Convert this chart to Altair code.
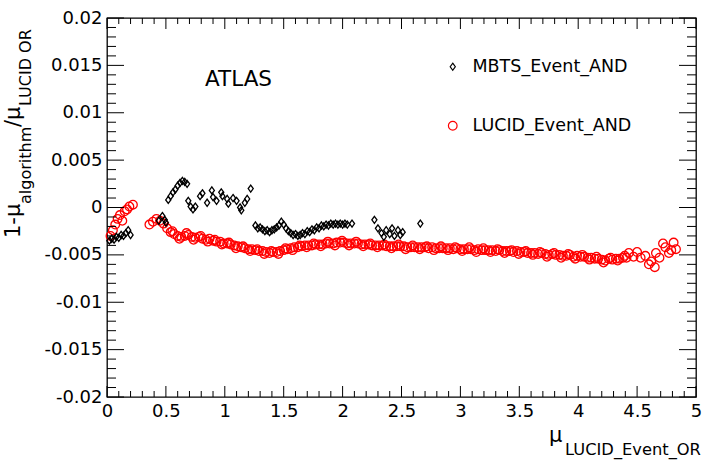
import altair as alt
import pandas as pd

series_names = ["LUCID_Event_AND", "MBTS_Event_AND"]

mbts_x = [0.02, 0.04, 0.06, 0.08, 0.10, 0.12, 0.14, 0.16, 0.18, 0.20,
          0.44, 0.47, 0.49, 0.50,
          0.52, 0.54, 0.56, 0.58, 0.60, 0.62, 0.64, 0.66, 0.68,
          0.69, 0.71, 0.73, 0.75, 0.79, 0.81, 0.85, 0.89, 0.90, 0.93, 0.97, 0.98,
          1.02, 1.03, 1.07, 1.10, 1.13, 1.14, 1.17, 1.19, 1.22, 1.26, 1.28,
          1.30, 1.32, 1.34, 1.36, 1.38, 1.40, 1.42, 1.44, 1.46, 1.48, 1.50, 1.52,
          1.54, 1.56, 1.58, 1.60, 1.62, 1.64, 1.66, 1.68, 1.70, 1.72, 1.74, 1.76,
          1.78, 1.80, 1.82, 1.84, 1.86, 1.88, 1.90, 1.92, 1.94, 1.96, 1.98, 2.00,
          2.02, 2.04,
          2.08, 2.27, 2.30, 2.33, 2.35, 2.37, 2.40, 2.42, 2.44, 2.47, 2.49, 2.51, 2.66]
mbts_y = [-0.0035, -0.0033, -0.0034, -0.0031, -0.0032, -0.0029, -0.0030, -0.0027, -0.0024, -0.0029,
          -0.0014, -0.0009, -0.0013, -0.0016,
          0.0008, 0.0012, 0.0016, 0.0019, 0.0023, 0.0026, 0.0028, 0.0027, 0.0025,
          0.0007, 0.0001, -0.0002, 0.0001, 0.0012, 0.0015, 0.0005, 0.0018, 0.0011, 0.0007, 0.0016, 0.0012,
          0.0009, 0.0004, 0.0010, 0.0007, 0.0000, -0.0003, 0.0005, 0.0009, 0.0020, -0.0019, -0.0022,
          -0.0021, -0.0023, -0.0025, -0.0024, -0.0026, -0.0024, -0.0023, -0.0021, -0.0019, -0.0015, -0.0018, -0.0022,
          -0.0025, -0.0027, -0.0029, -0.0028, -0.0030, -0.0029, -0.0027, -0.0028, -0.0025, -0.0026, -0.0023, -0.0024,
          -0.0021, -0.0022, -0.0019, -0.0020, -0.0018, -0.0019, -0.0017, -0.0018, -0.0017, -0.0018, -0.0017, -0.0018,
          -0.0017, -0.0018,
          -0.0017, -0.0013, -0.0022, -0.0027, -0.0031, -0.0024, -0.0028, -0.0022, -0.0030, -0.0024, -0.0029, -0.0026, -0.0017]

lucid_x = [0.03, 0.05, 0.07, 0.09, 0.11, 0.13, 0.15, 0.17, 0.19, 0.22,
           0.36, 0.39, 0.42, 0.45, 0.48, 0.51, 0.54, 0.57, 0.60, 0.63, 0.66, 0.69,
           0.72, 0.75, 0.78, 0.81, 0.84, 0.87, 0.90, 0.93, 0.96, 0.99, 1.02, 1.05,
           1.08, 1.11, 1.14, 1.17, 1.20, 1.23, 1.26, 1.29, 1.32, 1.35, 1.38, 1.41,
           1.44, 1.47, 1.50, 1.53, 1.56, 1.59, 1.62, 1.65, 1.68, 1.71, 1.74, 1.77,
           1.80, 1.83, 1.86, 1.89, 1.92, 1.95, 1.98, 2.01, 2.04, 2.07, 2.10, 2.13,
           2.16, 2.19, 2.22, 2.25, 2.28, 2.31, 2.34, 2.37, 2.40, 2.43, 2.46, 2.49,
           2.52, 2.55, 2.58, 2.61, 2.64, 2.67, 2.70, 2.73, 2.76, 2.79, 2.82, 2.85,
           2.88, 2.91, 2.94, 2.97, 3.00, 3.03, 3.06, 3.09, 3.12, 3.15, 3.18, 3.21,
           3.24, 3.27, 3.30, 3.33, 3.36, 3.39, 3.42, 3.45, 3.48, 3.51, 3.54, 3.57,
           3.60, 3.63, 3.66, 3.69, 3.72, 3.75, 3.78, 3.81, 3.84, 3.87, 3.90, 3.93,
           3.96, 3.99, 4.02, 4.05, 4.08, 4.11, 4.14, 4.17, 4.20, 4.23, 4.26, 4.29,
           4.32, 4.35, 4.38, 4.41,
           4.43, 4.47, 4.50, 4.53, 4.57, 4.60, 4.62, 4.65, 4.66, 4.69, 4.72, 4.74,
           4.77, 4.79, 4.81, 4.83,
           0.555, 0.615, 0.675, 0.735, 0.795, 0.855, 0.915, 0.975, 1.035, 1.095,
           1.155, 1.215, 1.275, 1.335, 1.395, 1.455, 1.515, 1.575, 1.635, 1.695,
           1.755, 1.815, 1.875, 1.935, 1.995, 2.055, 2.115, 2.175, 2.235, 2.295,
           2.355, 2.415, 2.475, 2.535, 2.595, 2.655, 2.715, 2.775, 2.835, 2.895,
           2.955, 3.015, 3.075, 3.135, 3.195, 3.255, 3.315, 3.375, 3.435, 3.495,
           3.555, 3.615, 3.675, 3.735, 3.795, 3.855, 3.915, 3.975, 4.035, 4.095,
           4.155, 4.215, 4.275, 4.335, 4.395]
lucid_y = [-0.0030, -0.0024, -0.0018, -0.0012, -0.0008, -0.0014, -0.0004, -0.0002, 0.0001, 0.0003,
           -0.0018, -0.0015, -0.0012, -0.0014, -0.0017, -0.0022, -0.0026, -0.0028, -0.0030, -0.0031, -0.0030, -0.0029,
           -0.0031, -0.0032, -0.0031, -0.0033, -0.0034, -0.0033, -0.0035, -0.0036, -0.0036, -0.0038, -0.0038, -0.0039,
           -0.0040, -0.0041, -0.0042, -0.0043, -0.0044, -0.0044, -0.0045, -0.0046, -0.0046, -0.0047, -0.0048, -0.0047,
           -0.0047, -0.0046, -0.0045, -0.0044, -0.0043, -0.0042, -0.0042, -0.0041, -0.0040, -0.0040, -0.0040, -0.0039,
           -0.0039, -0.0039, -0.0038, -0.0038, -0.0038, -0.0037, -0.0037, -0.0037, -0.0038, -0.0038, -0.0038, -0.0038,
           -0.0039, -0.0039, -0.0039, -0.0040, -0.0040, -0.0040, -0.0040, -0.0041, -0.0041, -0.0041, -0.0041, -0.0041,
           -0.0041, -0.0042, -0.0042, -0.0042, -0.0042, -0.0042, -0.0042, -0.0043, -0.0042, -0.0043, -0.0043, -0.0043,
           -0.0043, -0.0043, -0.0044, -0.0043, -0.0044, -0.0044, -0.0044, -0.0044, -0.0045, -0.0044, -0.0045, -0.0045,
           -0.0045, -0.0045, -0.0046, -0.0045, -0.0046, -0.0046, -0.0046, -0.0047, -0.0046, -0.0047, -0.0047, -0.0048,
           -0.0048, -0.0048, -0.0049, -0.0048, -0.0049, -0.0050, -0.0049, -0.0050, -0.0050, -0.0051, -0.0051, -0.0050,
           -0.0052, -0.0051, -0.0052, -0.0052, -0.0053, -0.0053, -0.0054, -0.0054, -0.0055, -0.0056, -0.0054, -0.0055,
           -0.0054, -0.0054, -0.0053, -0.0053,
           -0.0048, -0.0052, -0.0047, -0.0053, -0.0051, -0.0060, -0.0057, -0.0063, -0.0048, -0.0053, -0.0038, -0.0042,
           -0.0048, -0.0045, -0.0037, -0.0044,
           -0.0025, -0.0033, -0.0027, -0.0034, -0.0030, -0.0036, -0.0034, -0.0039, -0.0037, -0.0043,
           -0.0041, -0.0046, -0.0044, -0.0049, -0.0046, -0.0049, -0.0043, -0.0045, -0.0040, -0.0042,
           -0.0038, -0.0041, -0.0036, -0.0040, -0.0035, -0.0040, -0.0036, -0.0041, -0.0038, -0.0042,
           -0.0039, -0.0043, -0.0039, -0.0044, -0.0040, -0.0044, -0.0041, -0.0045, -0.0041, -0.0045,
           -0.0042, -0.0046, -0.0042, -0.0047, -0.0043, -0.0047, -0.0044, -0.0048, -0.0045, -0.0049,
           -0.0046, -0.0050, -0.0047, -0.0052, -0.0048, -0.0053, -0.0049, -0.0054, -0.0050, -0.0055,
           -0.0052, -0.0058, -0.0053, -0.0056, -0.0051]

x_major = [0, 0.5, 1, 1.5, 2, 2.5, 3, 3.5, 4, 4.5, 5]
x_minor = [round(0.1 * i, 1) for i in range(1, 50) if i % 5]
y_major = [-0.02, -0.015, -0.01, -0.005, 0, 0.005, 0.01, 0.015, 0.02]
y_minor = [round(-0.02 + 0.001 * i, 3) for i in range(1, 40) if i % 5]

W, H = 589, 379
FONT = "DejaVu Sans"

df = pd.concat([
    pd.DataFrame({"x": lucid_x, "y": lucid_y, "s": series_names[0]}),
    pd.DataFrame({"x": mbts_x, "y": mbts_y, "s": series_names[1]}),
], ignore_index=True)

xs = alt.Scale(domain=[0, 5], nice=False, zero=False)
ys = alt.Scale(domain=[-0.02, 0.02], nice=False, zero=False)
x_axis = alt.Axis(values=x_major, labelExpr="'' + datum.value",
                  ticks=False, domain=False, grid=False, title=None,
                  labelFont=FONT, labelFontSize=18, labelColor="black",
                  labelPadding=5, labelFlush=False)
y_axis = alt.Axis(values=y_major, labelExpr="'' + datum.value",
                  ticks=False, domain=False, grid=False, title=None,
                  labelFont=FONT, labelFontSize=18, labelColor="black",
                  labelPadding=5, labelFlush=False)

diamond = "M0,-1L0.72,0L0,1L-0.72,0Z"
legend_order = ["MBTS_Event_AND", "LUCID_Event_AND"]

points = alt.Chart(df).mark_point(filled=False, strokeWidth=1.3, opacity=1).encode(
    x=alt.X("x:Q", scale=xs, axis=x_axis),
    y=alt.Y("y:Q", scale=ys, axis=y_axis),
    color=alt.Color("s:N", scale=alt.Scale(domain=legend_order, range=["black", "#ff0000"]),
                    legend=alt.Legend(title=None, orient="none", legendX=337, legendY=40,
                                      labelFont=FONT, labelFontSize=17.5, labelColor="black",
                                      labelOffset=11, rowPadding=40, symbolStrokeWidth=1.2,
                                      symbolSize=60, padding=0)),
    shape=alt.Shape("s:N", scale=alt.Scale(domain=legend_order, range=[diamond, "circle"])),
    size=alt.Size("s:N", scale=alt.Scale(domain=legend_order, range=[50, 75]), legend=None),
    order=alt.Order("s:N", sort="ascending"),
)


def ticks_x(vals, length, top):
    d = pd.DataFrame({"x": vals})
    if top:
        enc = dict(y=alt.value(0), y2=alt.value(length))
    else:
        enc = dict(y=alt.value(H), y2=alt.value(H - length))
    return alt.Chart(d).mark_rule(color="black", strokeWidth=1).encode(
        x=alt.X("x:Q", scale=xs, axis=x_axis), **enc)


def ticks_y(vals, length, right):
    d = pd.DataFrame({"y": vals})
    if right:
        enc = dict(x=alt.value(W), x2=alt.value(W - length))
    else:
        enc = dict(x=alt.value(0), x2=alt.value(length))
    return alt.Chart(d).mark_rule(color="black", strokeWidth=1).encode(
        y=alt.Y("y:Q", scale=ys, axis=y_axis), **enc)


tick_layers = [
    ticks_x(x_major, 11, False), ticks_x(x_minor, 6, False),
    ticks_x(x_major, 11, True), ticks_x(x_minor, 6, True),
    ticks_y(y_major, 17, False), ticks_y(y_minor, 9, False),
    ticks_y(y_major, 17, True), ticks_y(y_minor, 9, True),
]


def label(text, px, py, size, font=FONT, angle=0, align="left"):
    return alt.Chart(pd.DataFrame({"t": [text]})).mark_text(
        font=font, fontSize=size, angle=angle, align=align, baseline="alphabetic",
        color="black").encode(text="t:N", x=alt.value(px), y=alt.value(py))


texts = [
    label("ATLAS", 98, 68, 21.5),
    label("μ", 442, 424, 21),
    label("LUCID_Event_OR", 458, 437, 16.3),
    label("1-μ", -87, 220, 21, angle=270),
    label("algorithm", -76, 186, 16, angle=270),
    label("/μ", -87, 109, 21, angle=270),
    label("LUCID OR", -76, 88, 16, angle=270),
]

chart = alt.layer(points, *tick_layers, *texts).properties(
    width=W, height=H,
    autosize=alt.AutoSizeParams(type="none"),
    padding={"left": 107, "top": 18, "right": 17, "bottom": 69},
    background="white",
).configure_view(stroke="black", strokeWidth=1.3)

chart.save("out.html", embed_options={"renderer": "svg", "actions": False})
